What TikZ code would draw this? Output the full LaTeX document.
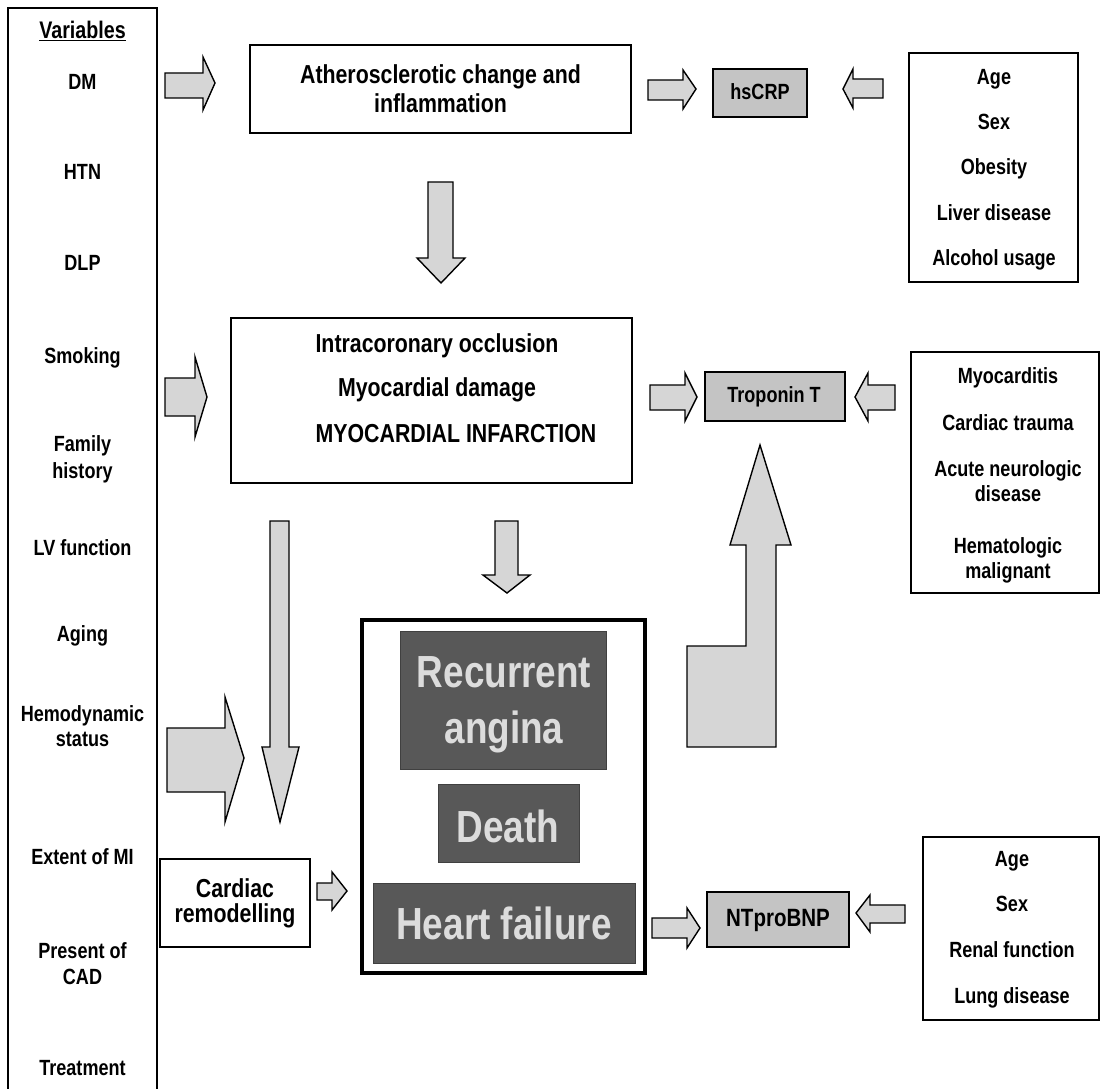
\documentclass[tikz,border=0pt]{standalone}
\usepackage{fontspec}
\setmainfont{Liberation Sans}[FakeStretch=0.82]
\definecolor{arrowgray}{HTML}{D6D6D6}
\definecolor{taggray}{HTML}{C4C4C4}
\definecolor{darkbox}{HTML}{585858}
\definecolor{lighttext}{HTML}{DCDCDC}
\begin{document}
\begin{tikzpicture}[x=1pt,y=-1pt,
 lbl/.style={font=\bfseries\fontsize{22}{26}\selectfont, align=center, inner sep=0pt, anchor=base},
 lbig/.style={font=\bfseries\fontsize{26}{28.5}\selectfont, align=center, inner sep=0pt, anchor=base},
 lhuge/.style={font=\bfseries\fontsize{45}{56}\selectfont, text=lighttext, align=center, inner sep=0pt, anchor=base},
 box/.style={draw, line width=1.6pt, inner sep=0pt, fill=white},
 tagbox/.style={draw, line width=1.6pt, inner sep=0pt, fill=taggray},
 darkbx/.style={draw=black!75, line width=1pt, fill=darkbox, inner sep=0pt},
 barrow/.style={draw, line width=1.4pt, fill=arrowgray, line join=miter}
]
\useasboundingbox[fill=white] (0,0) rectangle (1101,1089);

% ---------- boxes ----------
\node[box, minimum width=149pt, minimum height=1092pt] (vars) at (82.5,554) {};
\node[box, minimum width=381pt, minimum height=88pt] (ath) at (440.5,89) {};
\node[tagbox, minimum width=94pt, minimum height=48pt] (hscrp) at (760,93) {};
\node[box, minimum width=169pt, minimum height=229pt] (riskA) at (993.5,167.5) {};
\node[box, minimum width=401pt, minimum height=165pt] (mi) at (431.5,400.5) {};
\node[tagbox, minimum width=140pt, minimum height=49pt] (trop) at (775,396.5) {};
\node[box, minimum width=188pt, minimum height=241pt] (riskB) at (1005,472.5) {};
\node[draw, line width=3.2pt, fill=white, inner sep=0pt, minimum width=283pt, minimum height=353pt] (outc) at (503.5,796.5) {};
\node[darkbx, minimum width=206pt, minimum height=138pt] (rec) at (503,700) {};
\node[darkbx, minimum width=141pt, minimum height=78pt] (death) at (508.5,823) {};
\node[darkbx, minimum width=262pt, minimum height=80pt] (hf) at (504,923) {};
\node[box, minimum width=150pt, minimum height=88pt] (remod) at (235,903) {};
\node[tagbox, minimum width=142pt, minimum height=55pt] (ntp) at (778,919.5) {};
\node[box, minimum width=176pt, minimum height=183pt] (riskC) at (1011,928.5) {};

% ---------- variables ----------
\node[lbl, font=\bfseries\fontsize{24}{28}\selectfont] (v0) at (82.5,39) {\underline{Variables}};
\node[lbl] (v1) at (82.5,90) {DM};
\node[lbl] (v2) at (82.5,180) {HTN};
\node[lbl] (v3) at (82.5,270) {DLP};
\node[lbl] (v4) at (82.5,363) {Smoking};
\node[lbl, font=\bfseries\fontsize{22}{27}\selectfont] (v5) at (82.5,478) {Family\\history};
\node[lbl] (v6) at (82.5,555) {LV function};
\node[lbl] (v7) at (82.5,641) {Aging};
\node[lbl, font=\bfseries\fontsize{22}{25}\selectfont] (v8) at (82.5,746) {Hemodynamic\\status};
\node[lbl] (v9) at (82.5,864) {Extent of MI};
\node[lbl] (v10) at (82.5,984) {Present of\\CAD};
\node[lbl] (v11) at (82.5,1075) {Treatment};

% ---------- main texts ----------
\node[lbig] (athT) at (440.5,112.5) {Atherosclerotic change and\\inflammation};
\node[lbig] (mi1) at (437,352) {Intracoronary occlusion};
\node[lbig] (mi2) at (437,396) {Myocardial damage};
\node[lbig] (mi3) at (456,442) {MYOCARDIAL INFARCTION};
\node[lbig, font=\bfseries\fontsize{26}{25}\selectfont] (remT) at (235,922) {Cardiac\\remodelling};
\node[lhuge] (recT) at (504,743) {Recurrent\\angina};
\node[lhuge] (deathT) at (508,842) {Death};
\node[lhuge] (hfT) at (504,939) {Heart failure};
\node[lbl] (hsT) at (760,99.5) {hsCRP};
\node[lbl] (tropT) at (774,402) {Troponin T};
\node[lbl, font=\bfseries\fontsize{25}{28}\selectfont] (ntpT) at (778,926.5) {NTproBNP};

% ---------- risk factor lists ----------
\node[lbl] (a1) at (994,85) {Age};
\node[lbl] (a2) at (994,130) {Sex};
\node[lbl] (a3) at (994,175) {Obesity};
\node[lbl] (a4) at (994,220) {Liver disease};
\node[lbl] (a5) at (994,265) {Alcohol usage};

\node[lbl] (b1) at (1008,383) {Myocarditis};
\node[lbl] (b2) at (1008,430) {Cardiac trauma};
\node[lbl, font=\bfseries\fontsize{22}{25}\selectfont] (b3) at (1008,501) {Acute neurologic\\disease};
\node[lbl, font=\bfseries\fontsize{22}{25}\selectfont] (b4) at (1008,578) {Hematologic\\malignant};

\node[lbl] (c1) at (1012,866) {Age};
\node[lbl] (c2) at (1012,911) {Sex};
\node[lbl] (c3) at (1012,957) {Renal function};
\node[lbl] (c4) at (1012,1003) {Lung disease};

% ---------- block arrows ----------
% DM -> atherosclerosis
\draw[barrow] (165,73) -- (203,73) -- (203,57) -- (215,83) -- (203,110) -- (203,98) -- (165,98) -- cycle;
% atherosclerosis -> hsCRP
\draw[barrow] (648,80) -- (683,80) -- (683,70) -- (696,89) -- (683,109) -- (683,100) -- (648,100) -- cycle;
% risk A -> hsCRP
\draw[barrow] (883,79) -- (853,79) -- (853,69) -- (843,89) -- (853,108) -- (853,98) -- (883,98) -- cycle;
% atherosclerosis -> MI (down)
\draw[barrow] (428,182) -- (453,182) -- (453,258) -- (465,258) -- (441,283) -- (417,258) -- (428,258) -- cycle;
% smoking -> MI
\draw[barrow] (165,378) -- (195,378) -- (195,357) -- (207,397) -- (195,437) -- (195,416) -- (165,416) -- cycle;
% MI -> Troponin T
\draw[barrow] (650,385) -- (685,385) -- (685,373) -- (697,397) -- (685,421) -- (685,410) -- (650,410) -- cycle;
% risk B -> Troponin T
\draw[barrow] (895,385) -- (868,385) -- (868,373) -- (855,397) -- (868,421) -- (868,410) -- (895,410) -- cycle;
% long down arrow
\draw[barrow] (270,521) -- (289,521) -- (289,747) -- (299,747) -- (280,822) -- (262,747) -- (270,747) -- cycle;
% hemodynamic arrow
\draw[barrow] (167,728) -- (225,728) -- (225,697) -- (244,758) -- (225,822) -- (225,792) -- (167,792) -- cycle;
% MI -> outcomes (down)
\draw[barrow] (495,521) -- (518,521) -- (518,575) -- (530,575) -- (507,593) -- (483,575) -- (495,575) -- cycle;
% outcomes -> Troponin T (L-shaped up arrow)
\draw[barrow] (687,646) -- (746,646) -- (746,545) -- (730,545) -- (760,445) -- (791,545) -- (776,545) -- (776,747) -- (687,747) -- cycle;
% remodelling -> outcomes
\draw[barrow] (317,883) -- (332,883) -- (332,872) -- (347,891) -- (332,910) -- (332,900) -- (317,900) -- cycle;
% outcomes -> NTproBNP
\draw[barrow] (652,918) -- (687,918) -- (687,908) -- (700,928) -- (687,948) -- (687,938) -- (652,938) -- cycle;
% risk C -> NTproBNP
\draw[barrow] (905,905) -- (870,905) -- (870,895) -- (856,913) -- (870,932) -- (870,923) -- (905,923) -- cycle;
\end{tikzpicture}
\end{document}
